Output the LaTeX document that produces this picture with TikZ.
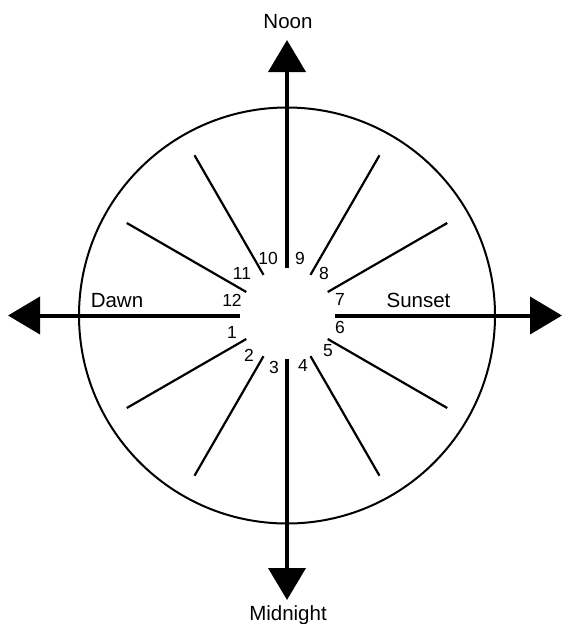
\documentclass[tikz,border=0pt]{standalone}
\usepackage{fontspec}
\setmainfont{Liberation Sans}
\usetikzlibrary{arrows.meta,calc}
\begin{document}
\begin{tikzpicture}[x=1pt,y=-1pt,
  axisline/.style={line width=4pt,-{Triangle[length=32pt,width=37pt]}},
  spoke/.style={line width=2.2pt},
  rim/.style={line width=2pt},
  biglabel/.style={font=\fontsize{20.5}{24}\selectfont,inner sep=0pt,anchor=base},
  num/.style={font=\fontsize{17.5}{20}\selectfont,inner sep=0pt}]
\useasboundingbox (0,0) rectangle (562,624);
\coordinate (c) at (287,315.5);
\draw[rim] (c) circle[radius=208];
% axes
\coordinate (nIn) at (287,268);  \coordinate (nOut) at (287,40);
\coordinate (sIn) at (287,359);  \coordinate (sOut) at (287,600);
\coordinate (wIn) at (240,315.5); \coordinate (wOut) at (8,315.5);
\coordinate (eIn) at (335,315.5); \coordinate (eOut) at (562,315.5);
\draw[axisline] (nIn) -- (nOut);
\draw[axisline] (sIn) -- (sOut);
\draw[axisline] (wIn) -- (wOut);
\draw[axisline] (eIn) -- (eOut);
% spokes
\foreach \a in {30,60,120,150,210,240,300,330}{
  \coordinate (in\a) at ($(c)+(\a:47)$);
  \coordinate (out\a) at ($(c)+(\a:185)$);
  \draw[spoke] (in\a) -- (out\a);
}
% labels
\node[biglabel] (noon) at (288,28) {Noon};
\node[biglabel] (midnight) at (288,620) {Midnight};
\node[biglabel] (dawn) at (117,307) {Dawn};
\node[biglabel] (sunset) at (418.5,307) {Sunset};
% numbers
\node[num] (h1) at (232,332) {1};
\node[num] (h2) at (249,355) {2};
\node[num] (h3) at (274,367) {3};
\node[num] (h4) at (303,365) {4};
\node[num] (h5) at (328,351) {5};
\node[num] (h6) at (340,327) {6};
\node[num] (h7) at (340,299) {7};
\node[num] (h8) at (324,273) {8};
\node[num] (h9) at (300,258) {9};
\node[num] (h10) at (268,258) {10};
\node[num] (h11) at (242,273) {11};
\node[num] (h12) at (232,300) {12};
\end{tikzpicture}
\end{document}
